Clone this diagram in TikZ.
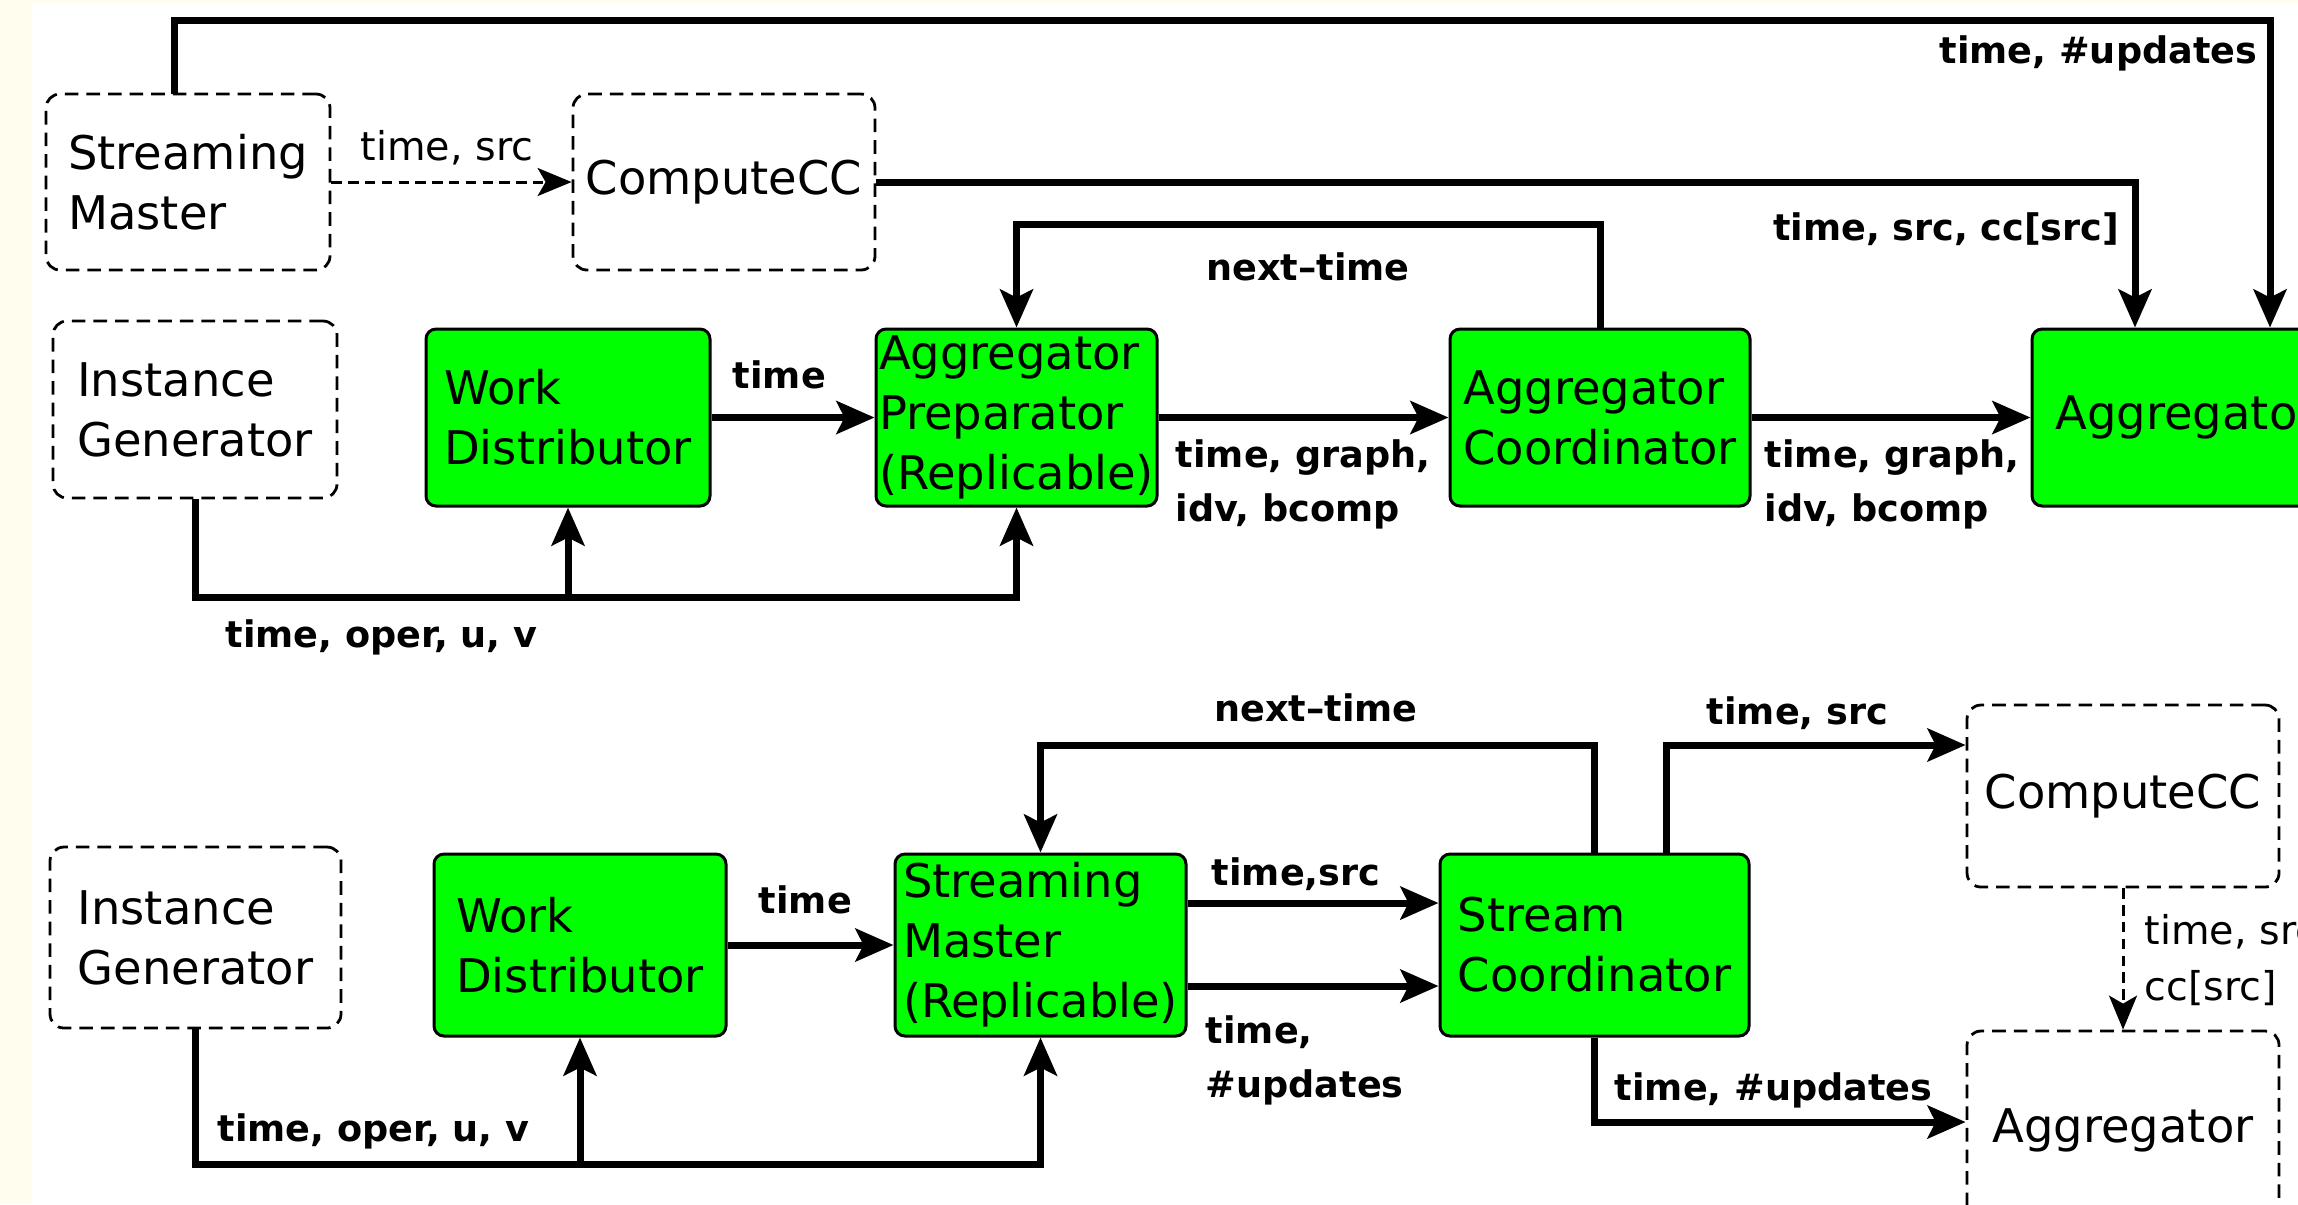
\documentclass[tikz,border=0pt]{standalone}
\usepackage{fontspec}
\setmainfont{DejaVu Sans}
\usetikzlibrary{arrows.meta}
\definecolor{cream}{RGB}{255,254,238}
\definecolor{boxgreen}{RGB}{0,255,0}
\begin{document}
\begin{tikzpicture}[x=0.25pt,y=-0.25pt,
  boxfont/.style={font=\fontsize{11.6pt}{15pt}\selectfont},
  gbox/.style={boxfont, draw=black, line width=0.75pt, fill=boxgreen,
    rounded corners=2.5pt, inner sep=0pt, align=left},
  dbox/.style={boxfont, draw=black, line width=0.7pt,
    dash pattern=on 3.4pt off 2pt, rounded corners=3.5pt, inner sep=0pt, align=left},
  link/.style={line width=1.75pt},
  flow/.style={link, -{Stealth[length=9.5pt,width=8.2pt,inset=2pt]}},
  thinflow/.style={line width=0.75pt, dash pattern=on 2.6pt off 1.6pt,
    -{Stealth[length=8.5pt,width=7pt,inset=2pt]}},
  blab/.style={font=\bfseries\fontsize{9.15pt}{13.5pt}\selectfont, inner sep=0pt, align=left},
  rlab/.style={font=\fontsize{9.9pt}{14pt}\selectfont, inner sep=0pt, align=left},
]
% page and background
\useasboundingbox (0,0) rectangle (2298,1204);
\clip (0,0) rectangle (2298,1204);
\fill[cream] (0,0) rectangle (2298,1204);
\fill[white] (32,3) rectangle (2298,1204);

% ---------- upper pipeline ----------
\node[dbox, minimum width=71pt, minimum height=44pt] (sm) at (188,182) {Streaming\\Master};
\node[dbox, minimum width=75.5pt, minimum height=44pt] (cca) at (724,182) {ComputeCC};
\node[dbox, minimum width=71pt, minimum height=44.25pt] (iga) at (195,409.5) {Instance\\Generator};
\node[gbox, minimum width=71pt, minimum height=44.25pt] (wda) at (568,417.5) {Work\\Distributor};
\node[gbox, minimum width=70.25pt, minimum height=44.25pt] (ap) at (1016.5,417.5) {Aggregator\\Preparator\\(Replicable)};
\node[gbox, minimum width=75pt, minimum height=44.25pt] (ac) at (1600,417.5) {Aggregator\\Coordinator};
\node[gbox, minimum width=77pt, minimum height=44.25pt] (aga) at (2186,417.5) {Aggregator};

\coordinate (smtap) at (174,94);
\draw[flow] (smtap) -- (174,20) -- (2270,20) -- (2270,0 |- aga.north);
\draw[thinflow] (sm.east) -- (cca.west);
\draw[flow] (cca.east) -- (2135,182) -- (2135,0 |- aga.north);
\draw[flow] (ac.north) -- (ac.north |- 0,224) -| (ap.north);
\draw[flow] (wda.east) -- (ap.west);
\draw[flow] (ap.east) -- (ac.west);
\draw[flow] (ac.east) -- (aga.west);
\draw[flow] (iga.south) -- (iga.south |- 0,597) -| (ap.south);
\draw[flow] (wda.south |- 0,597) -- (wda.south);

\node[rlab, anchor=base west] (la1) at (360,160) {time, src};
\node[blab, anchor=base east] (la2) at (2258,63) {time, \#updates};
\node[blab, anchor=base east] (la3) at (2120,240) {time, src, cc[src]};
\node[blab, anchor=base] (la4) at (1308,280) {next\textendash time};
\node[blab, anchor=base west] (la5) at (732,388) {time};
% multi-line labels: the base anchor sits on the last line
\node[blab, anchor=base west] (la6) at (1175,521) {time, graph,\\idv, bcomp};
\node[blab, anchor=base west] (la7) at (1764,521) {time, graph,\\idv, bcomp};
\node[blab, anchor=base west] (la8) at (225,647) {time, oper, u, v};

% ---------- lower pipeline ----------
\node[dbox, minimum width=72.75pt, minimum height=45.25pt] (igb) at (195.5,937.5) {Instance\\Generator};
\node[gbox, minimum width=73pt, minimum height=45.5pt] (wdb) at (580,945) {Work\\Distributor};
\node[gbox, minimum width=72.75pt, minimum height=45.5pt] (smb) at (1040.5,945) {Streaming\\Master\\(Replicable)};
\node[gbox, minimum width=77.25pt, minimum height=45.5pt] (sc) at (1594.5,945) {Stream\\Coordinator};
\node[dbox, minimum width=78pt, minimum height=45.5pt] (ccb) at (2123,796) {ComputeCC};
\node[dbox, minimum width=78pt, minimum height=49.5pt] (agb) at (2123,1130) {Aggregator};

\draw[flow] (igb.south) -- (igb.south |- 0,1164) -| (smb.south);
\draw[flow] (wdb.south |- 0,1164) -- (wdb.south);
\draw[flow] (wdb.east) -- (smb.west);
\draw[flow] (smb.east |- 0,903) -- (sc.west |- 0,903);
\draw[flow] (smb.east |- 0,986) -- (sc.west |- 0,986);
\draw[flow] (sc.north) -- (sc.north |- 0,745) -| (smb.north);
\coordinate (sctap) at (1666,854);
\draw[flow] (sctap) -- (1666,745) -- (ccb.west |- 0,745);
\draw[flow] (sc.south) -- (sc.south |- 0,1122) -- (agb.west |- 0,1122);
\draw[thinflow] (ccb.south) -- (agb.north);

\node[blab, anchor=base west] (lb1) at (758,913) {time};
\node[blab, anchor=base west] (lb2) at (217,1141) {time, oper, u, v};
\node[blab, anchor=base] (lb3) at (1316,721) {next\textendash time};
\node[blab, anchor=base west] (lb4) at (1706,724) {time, src};
\node[blab, anchor=base west] (lb5) at (1211,885) {time,src};
\node[blab, anchor=base west] (lb6) at (1205,1097) {time,\\\#updates};
\node[blab, anchor=base west] (lb7) at (1614,1100) {time, \#updates};
\node[rlab, anchor=base west] (lb8) at (2144,1000) {time, src\\cc[src]};
\end{tikzpicture}
\end{document}
